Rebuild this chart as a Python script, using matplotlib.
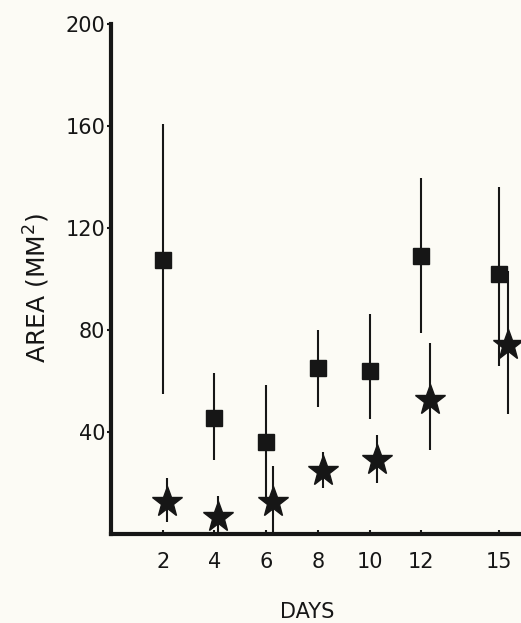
import numpy as np
import matplotlib
matplotlib.use('Agg')
import matplotlib.pyplot as plt

# square series
sq_days = [2, 4, 6, 8, 10, 12, 15]
sq_area = [107.5, 45.5, 36, 65, 64, 109, 102]
sq_hi = [161, 63, 58.5, 80, 86.5, 139.5, 136]
sq_lo = [55, 29, 14, 50, 45, 79, 66]

# star series, drawn slightly right of each day
st_days = [2.15, 4.15, 6.25, 8.2, 10.3, 12.35, 15.35]
st_area = [12.5, 6.7, 12.5, 24.7, 29, 52.5, 74]
st_hi = [22, 15, 26.7, 32, 39, 75, 103]
st_lo = [4.7, 0, 0, 18, 20, 33, 47]

xticks = [2, 4, 6, 8, 10, 12, 15]
yticks = [40, 80, 120, 160, 200]

bg = '#fcfbf5'
ink = '#161616'

fig = plt.figure(figsize=(5.21, 6.23), dpi=100, facecolor=bg)
ax = fig.add_axes([0.213, 0.143, 0.787, 0.818], facecolor=bg)

ax.vlines(sq_days, sq_lo, sq_hi, color=ink, lw=1.5)
ax.plot(sq_days, sq_area, 's', color=ink, ms=11, ls='none')
ax.vlines(st_days, st_lo, st_hi, color=ink, lw=1.5)
ax.plot(st_days, st_area, '*', color=ink, ms=23, ls='none')

ax.set_xlim(0, 15.85)
ax.set_ylim(0, 200)
ax.set_xticks(xticks)
ax.set_yticks(yticks)

for s in ['top', 'right']:
    ax.spines[s].set_visible(False)
for s in ['left', 'bottom']:
    ax.spines[s].set_linewidth(3)
    ax.spines[s].set_color(ink)

ax.tick_params(axis='x', direction='in', length=3, width=1.5, pad=13,
               labelsize=15, colors=ink)
ax.tick_params(axis='y', direction='out', length=3, width=1.5, pad=1,
               labelsize=15, colors=ink)

fig.text(0.59, 0.018, 'DAYS', fontsize=15, color=ink, ha='center', va='center')
fig.text(0.07, 0.538, 'AREA (MM$^2$)', fontsize=18, color=ink, rotation=90,
         ha='center', va='center')

fig.savefig('out.png', dpi=100, facecolor=bg)
